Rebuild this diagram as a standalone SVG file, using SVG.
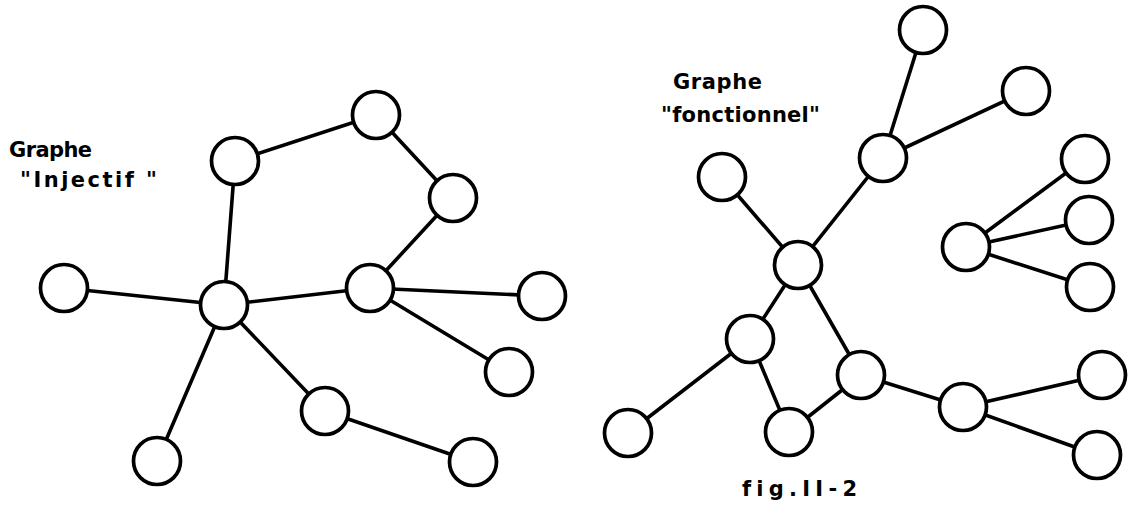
<svg xmlns="http://www.w3.org/2000/svg" width="1133" height="506" viewBox="0 0 1133 506">
  <style>
    .edge { stroke: #000; stroke-width: 3.6; stroke-linecap: round; fill: none; }
    .node circle { fill: #fff; stroke: #000; stroke-width: 3.7; }
    .label { font-family: "DejaVu Sans", "Liberation Sans", sans-serif; font-size: 21px; font-weight: bold; fill: #000; font-variant-ligatures: none; }
  </style>
  <rect width="1133" height="506" fill="#fff"/>

  <!-- connectors: drawn first, nodes cover the line ends -->
  <g id="connectors">
    <!-- injective graph -->
    <line class="edge" x1="235" y1="161" x2="376" y2="115"/>
    <line class="edge" x1="376" y1="115" x2="453" y2="198"/>
    <line class="edge" x1="453" y1="198" x2="370" y2="288"/>
    <line class="edge" x1="235" y1="161" x2="224" y2="305"/>
    <line class="edge" x1="64" y1="288" x2="224" y2="305"/>
    <line class="edge" x1="224" y1="305" x2="370" y2="288"/>
    <line class="edge" x1="370" y1="288" x2="542" y2="296"/>
    <line class="edge" x1="370" y1="288" x2="509" y2="372"/>
    <line class="edge" x1="224" y1="305" x2="157" y2="461"/>
    <line class="edge" x1="224" y1="305" x2="325" y2="411"/>
    <line class="edge" x1="325" y1="411" x2="473" y2="462"/>
    <!-- functional graph -->
    <line class="edge" x1="923" y1="30" x2="883" y2="158"/>
    <line class="edge" x1="1026" y1="91" x2="883" y2="158"/>
    <line class="edge" x1="883" y1="158" x2="798" y2="265"/>
    <line class="edge" x1="722" y1="177" x2="798" y2="265"/>
    <line class="edge" x1="798" y1="265" x2="750" y2="339"/>
    <line class="edge" x1="798" y1="265" x2="861" y2="375"/>
    <line class="edge" x1="750" y1="339" x2="628" y2="433"/>
    <line class="edge" x1="750" y1="339" x2="789" y2="432"/>
    <line class="edge" x1="789" y1="432" x2="861" y2="375"/>
    <line class="edge" x1="861" y1="375" x2="963" y2="407"/>
    <line class="edge" x1="963" y1="407" x2="1102" y2="375"/>
    <line class="edge" x1="963" y1="407" x2="1097" y2="455"/>
    <line class="edge" x1="966" y1="247" x2="1085" y2="159"/>
    <line class="edge" x1="966" y1="247" x2="1089" y2="220"/>
    <line class="edge" x1="966" y1="247" x2="1090" y2="287"/>
  </g>

  <!-- injective graph nodes -->
  <g id="inj-a" class="node"><circle cx="235" cy="161" r="23.5"/></g>
  <g id="inj-b" class="node"><circle cx="376" cy="115" r="23.5"/></g>
  <g id="inj-c" class="node"><circle cx="453" cy="198" r="23.5"/></g>
  <g id="inj-d" class="node"><circle cx="370" cy="288" r="23.5"/></g>
  <g id="inj-e" class="node"><circle cx="224" cy="305" r="23.5"/></g>
  <g id="inj-f" class="node"><circle cx="64" cy="288" r="23.5"/></g>
  <g id="inj-g" class="node"><circle cx="542" cy="296" r="23.5"/></g>
  <g id="inj-h" class="node"><circle cx="509" cy="372" r="23.5"/></g>
  <g id="inj-i" class="node"><circle cx="325" cy="411" r="23.5"/></g>
  <g id="inj-j" class="node"><circle cx="473" cy="462" r="23.5"/></g>
  <g id="inj-k" class="node"><circle cx="157" cy="461" r="23.5"/></g>

  <!-- functional graph nodes -->
  <g id="fn-1" class="node"><circle cx="923" cy="30" r="23.5"/></g>
  <g id="fn-2" class="node"><circle cx="1026" cy="91" r="23.5"/></g>
  <g id="fn-3" class="node"><circle cx="883" cy="158" r="23.5"/></g>
  <g id="fn-4" class="node"><circle cx="722" cy="177" r="23.5"/></g>
  <g id="fn-5" class="node"><circle cx="798" cy="265" r="23.5"/></g>
  <g id="fn-6" class="node"><circle cx="966" cy="247" r="23.5"/></g>
  <g id="fn-7" class="node"><circle cx="1085" cy="159" r="23.5"/></g>
  <g id="fn-8" class="node"><circle cx="1089" cy="220" r="23.5"/></g>
  <g id="fn-9" class="node"><circle cx="1090" cy="287" r="23.5"/></g>
  <g id="fn-10" class="node"><circle cx="750" cy="339" r="23.5"/></g>
  <g id="fn-11" class="node"><circle cx="861" cy="375" r="23.5"/></g>
  <g id="fn-12" class="node"><circle cx="963" cy="407" r="23.5"/></g>
  <g id="fn-13" class="node"><circle cx="1102" cy="375" r="23.5"/></g>
  <g id="fn-14" class="node"><circle cx="1097" cy="455" r="23.5"/></g>
  <g id="fn-15" class="node"><circle cx="789" cy="432" r="23.5"/></g>
  <g id="fn-16" class="node"><circle cx="628" cy="433" r="23.5"/></g>

  <!-- titles -->
  <g id="labels">
    <text class="label" x="9" y="157" textLength="83" lengthAdjust="spacing">Graphe</text>
    <text class="label" x="20" y="187" textLength="137" lengthAdjust="spacing">"Injectif "</text>
    <text class="label" x="673" y="89" textLength="89" lengthAdjust="spacing">Graphe</text>
    <text class="label" x="661" y="122" textLength="159" lengthAdjust="spacing">"fonctionnel"</text>
    <text class="label" x="742" y="496" textLength="115" lengthAdjust="spacing">fig.II-2</text>
  </g>
</svg>
